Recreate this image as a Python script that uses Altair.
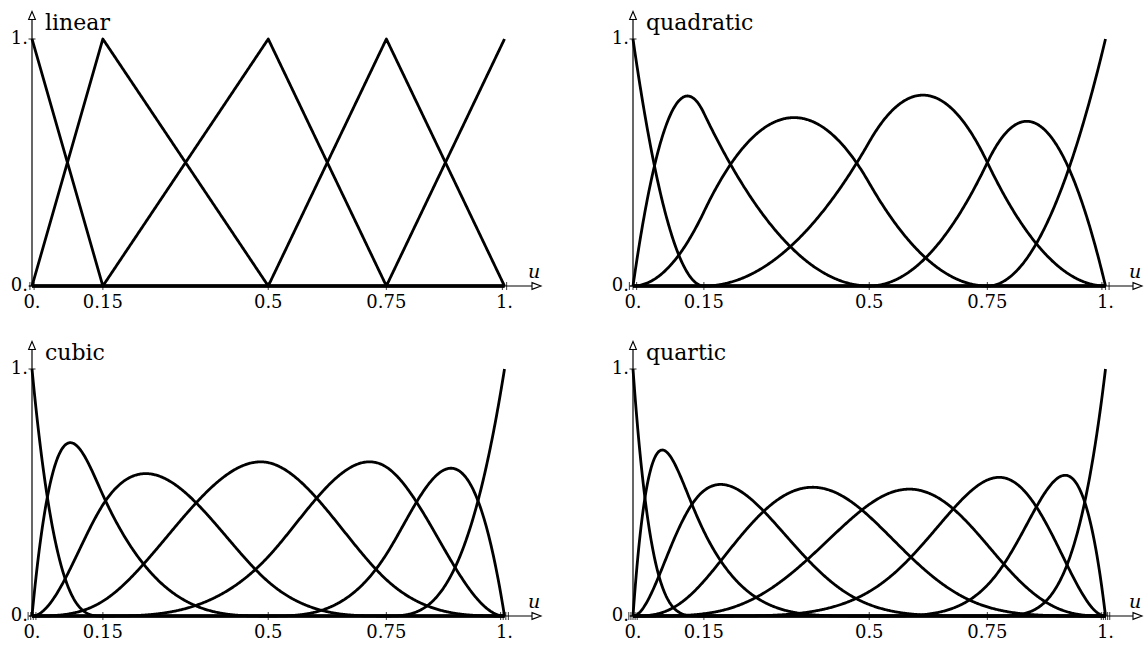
import numpy as np
import pandas as pd
import altair as alt

# Knot vector (distinct breakpoints) and spline degrees shown in the four panels
breakpoints = [0.0, 0.15, 0.5, 0.75, 1.0]
break_labels = ["0.", "0.15", "0.5", "0.75", "1."]
degrees = [1, 2, 3, 4]
panel_names = ["linear", "quadratic", "cubic", "quartic"]
y_ticks = [0.0, 1.0]
y_labels = ["0.", "1."]

FONT = "DejaVu Serif"
PX_X = 472.5            # pixels per unit of u
PX_Y = 247.0            # pixels per unit of the basis value
W, H = 544, 315
X0_PX, Y0_PX = 32, 286  # origin inside each panel

u_min = -X0_PX / PX_X
u_max = (W - X0_PX) / PX_X
v_max = Y0_PX / PX_Y
v_min = (Y0_PX - H) / PX_Y

xs = alt.Scale(domain=[u_min, u_max], nice=False, zero=False)
ys = alt.Scale(domain=[v_min, v_max], nice=False, zero=False)


def px_u(px):
    return (px - X0_PX) / PX_X


def px_v(px):
    return (Y0_PX - px) / PX_Y


def clamped_knots(p):
    return [breakpoints[0]] * (p + 1) + breakpoints[1:-1] + [breakpoints[-1]] * (p + 1)


def bspline_basis(t, p, u):
    """Cox-de Boor recursion; returns one row per basis function."""
    t = np.asarray(t, float)
    m = len(t) - 1
    N = np.zeros((m, len(u)))
    for i in range(m):
        if t[i] < t[i + 1]:
            N[i] = ((u >= t[i]) & (u < t[i + 1])).astype(float)
    last = max(i for i in range(m) if t[i] < t[i + 1])
    N[last][u == t[-1]] = 1.0
    for k in range(1, p + 1):
        nN = np.zeros((m - k, len(u)))
        for i in range(m - k):
            d1 = t[i + k] - t[i]
            d2 = t[i + k + 1] - t[i + 1]
            a = (u - t[i]) / d1 * N[i] if d1 > 0 else 0.0
            b = (t[i + k + 1] - u) / d2 * N[i + 1] if d2 > 0 else 0.0
            nN[i] = a + b
        N = nN
    return N


grid = np.unique(np.concatenate([np.linspace(0, 1, 601), breakpoints]))

tick_spacing_px = {1: 4.2, 2: 3.6, 3: 2.6, 4: 2.1}


def XD(v):
    return alt.XDatum(v, type="quantitative", scale=xs, axis=None)


def YD(v):
    return alt.YDatum(v, type="quantitative", scale=ys, axis=None)


def panel(p, name):
    knots = clamped_knots(p)
    B = bspline_basis(knots, p, grid)
    rows = []
    for i, row in enumerate(B):
        for uu, vv in zip(grid, row):
            rows.append({"u": uu, "v": vv, "i": i})
    curves = alt.Chart(pd.DataFrame(rows)).mark_line(
        color="black", strokeWidth=2.8, strokeJoin="round"
    ).encode(
        x=alt.X("u:Q", scale=xs, axis=None),
        y=alt.Y("v:Q", scale=ys, axis=None),
        detail="i:N",
        order="u:Q",
    )

    # axes
    x_end = px_u(532)
    y_end = px_v(19.5)
    x_axis = alt.Chart().mark_rule(color="black", strokeWidth=1.2).encode(
        x=XD(px_u(X0_PX - 3)), x2=alt.X2Datum(x_end), y=YD(0)
    )
    y_axis = alt.Chart().mark_rule(color="black", strokeWidth=1.2).encode(
        x=XD(0), y=YD(0), y2=alt.Y2Datum(y_end)
    )
    x_arrow = alt.Chart().mark_point(
        shape="M-1,-0.75L1,0L-1,0.75Z", size=81, filled=True,
        fill="white", stroke="black", strokeWidth=1.1, opacity=1,
    ).encode(x=XD(px_u(536.5)), y=YD(0))
    y_arrow = alt.Chart().mark_point(
        shape="M-0.85,1L0,-1L0.85,1Z", size=64, filled=True,
        fill="white", stroke="black", strokeWidth=1.1, opacity=1,
    ).encode(x=XD(0), y=YD(px_v(15.5)))

    # knot ticks: repeated end knots drawn as several close ticks
    sp = tick_spacing_px[p] / PX_X
    tick_rows = []
    for k in breakpoints:
        mult = p + 1 if k in (breakpoints[0], breakpoints[-1]) else 1
        for j in range(mult):
            tick_rows.append({"t": k + (j - (mult - 1) / 2) * sp})
    x_ticks = alt.Chart(pd.DataFrame(tick_rows)).mark_tick(
        orient="vertical", size=8, thickness=1.1, color="black"
    ).encode(x=alt.X("t:Q", scale=xs, axis=None), y=YD(0))

    y_tick_marks = alt.Chart(pd.DataFrame({"v": y_ticks})).mark_tick(
        orient="horizontal", size=7, thickness=1.2, color="black"
    ).encode(x=XD(0), y=alt.Y("v:Q", scale=ys, axis=None))

    x_lab = alt.Chart(pd.DataFrame({"k": breakpoints, "lab": break_labels})).mark_text(
        font=FONT, fontSize=18, baseline="top", align="center", dy=8, color="black"
    ).encode(x=alt.X("k:Q", scale=xs, axis=None), y=YD(0), text="lab:N")

    y_lab = alt.Chart(pd.DataFrame({"v": y_ticks, "lab": y_labels})).mark_text(
        font=FONT, fontSize=18, baseline="middle", align="right", dx=-4, color="black"
    ).encode(x=XD(0), y=alt.Y("v:Q", scale=ys, axis=None), text="lab:N")

    u_lab = alt.Chart().mark_text(
        font=FONT, fontSize=19, fontStyle="italic", align="center",
        baseline="middle", color="black"
    ).encode(x=XD(px_u(534)), y=YD(px_v(272)), text=alt.value("u"))

    title = alt.Chart().mark_text(
        font=FONT, fontSize=22, align="left", baseline="alphabetic", color="black"
    ).encode(x=XD(px_u(45)), y=YD(px_v(30)), text=alt.value(name))

    return alt.layer(
        x_axis, y_axis, x_ticks, y_tick_marks, curves, x_arrow, y_arrow,
        x_lab, y_lab, u_lab, title,
    ).properties(width=W, height=H)


panels = [panel(p, n) for p, n in zip(degrees, panel_names)]
chart = alt.ConcatChart(
    concat=panels,
    columns=2,
    spacing=alt.RowColnumber(row=645 - 2 * H, column=1145 - 2 * W),
    bounds="flush",
).properties(padding=0, background="white").configure_view(stroke=None)

chart.save("out.html", embed_options={"renderer": "svg", "actions": False})
